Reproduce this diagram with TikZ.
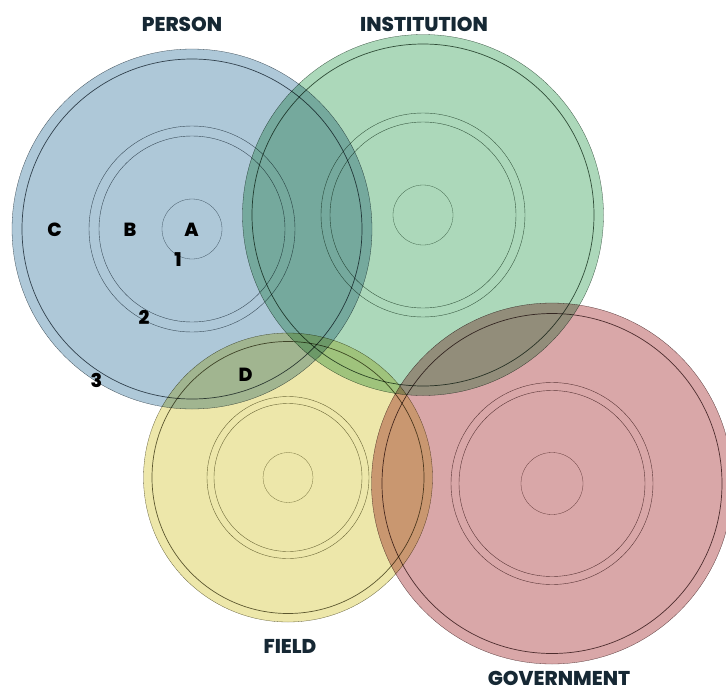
\documentclass[tikz,border=0pt]{standalone}
\usepackage{fontspec}
\setmainfont{Poppins}
\newfontfamily\heavyfont{Poppins ExtraBold}
\usepackage{tikz}

\definecolor{personblue}{RGB}{174,200,216}
\definecolor{institutiongreen}{RGB}{172,216,186}
\definecolor{fieldyellow}{RGB}{237,231,170}
\definecolor{governmentred}{RGB}{217,167,168}
\definecolor{labelnavy}{RGB}{22,40,52}

\begin{document}
\begin{tikzpicture}[
		x=1pt, y=-1pt,
		every node/.style={inner sep=0pt, outer sep=0pt},
		disc/.style={circle, fill=#1, draw=#1!45!black, line width=0.3pt},
		rim/.style={draw=#1!42!black, line width=0.7pt},
		band/.style={draw=#1!50!black, line width=0.4pt},
		core/.style={draw=#1!55!black, line width=0.3pt},
		title/.style={text=labelnavy, font=\heavyfont\fontsize{20}{24}\selectfont},
		letter/.style={text=black, font=\heavyfont\fontsize{19}{22}\selectfont}
	]
  \useasboundingbox (0,0) rectangle (726,694);
  \begin{scope}[blend mode=multiply]
  \node (person) [disc=personblue, minimum size=360pt] at (192,229) {};
  \node (institution) [disc=institutiongreen, minimum size=361pt] at (423,215) {};
  \node (field) [disc=fieldyellow, minimum size=289pt] at (288,477.5) {};
  \node (government) [disc=governmentred, minimum size=361pt] at (552,483.5) {};
  % rings of the person
  \draw [rim=personblue] (person.center) circle [radius=170];
  \draw [band=personblue] (person.center) circle [radius=103];
  \draw [band=personblue] (person.center) circle [radius=93];
  \draw [core=personblue] (person.center) circle [radius=30];
  % rings of the institution
  \draw [rim=institutiongreen] (institution.center) circle [radius=171];
  \draw [band=institutiongreen] (institution.center) circle [radius=102];
  \draw [band=institutiongreen] (institution.center) circle [radius=93];
  \draw [core=institutiongreen] (institution.center) circle [radius=30];
  % rings of the field
  \draw [rim=fieldyellow] (field.center) circle [radius=136];
  \draw [band=fieldyellow] (field.center) circle [radius=81];
  \draw [band=fieldyellow] (field.center) circle [radius=74];
  \draw [core=fieldyellow] (field.center) circle [radius=25];
  % rings of the government
  \draw [rim=governmentred] (government.center) circle [radius=170];
  \draw [band=governmentred] (government.center) circle [radius=101];
  \draw [band=governmentred] (government.center) circle [radius=93];
  \draw [core=governmentred] (government.center) circle [radius=31];
  \end{scope}
  \node (t_person) [title] at (182,24.5) {PERSON};
  \node (t_institution) [title] at (424,24) {INSTITUTION};
  \node (t_field) [title] at (290,646) {FIELD};
  \node (t_government) [title] at (559,678) {GOVERNMENT};
  \node (l_a) [letter] at (191.5,230) {A};
  \node (l_b) [letter] at (130,230) {B};
  \node (l_c) [letter] at (54.5,230) {C};
  \node (l_d) [letter] at (245.5,374.5) {D};
  \node (n_1) [letter] at (178,260) {1};
  \node (n_2) [letter] at (144,317) {2};
  \node (n_3) [letter] at (96.5,380) {3};
\end{tikzpicture}
\end{document}
